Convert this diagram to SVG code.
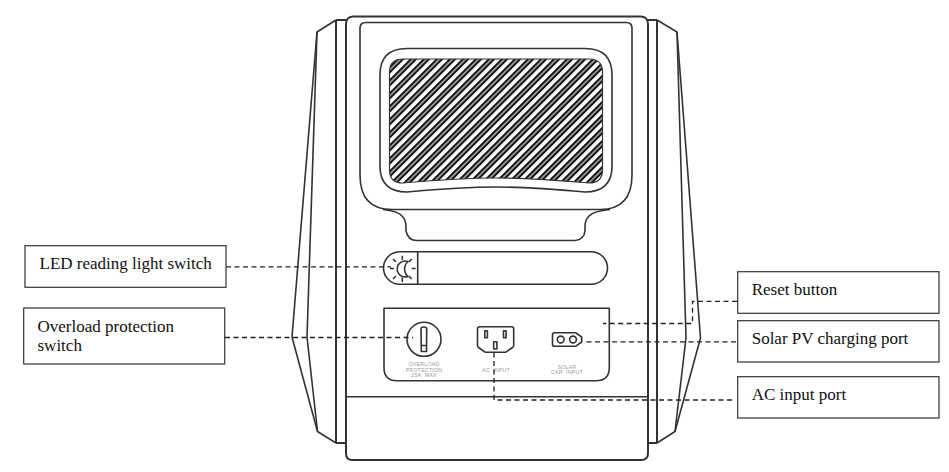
<svg xmlns="http://www.w3.org/2000/svg" width="949" height="472" viewBox="0 0 949 472">
<style>
.o{fill:none;stroke:#333;stroke-width:1.6;stroke-linejoin:round}
.t{fill:none;stroke:#333;stroke-width:2}
.box{fill:#fff;stroke:#333;stroke-width:1.2}
.lab{font-family:"Liberation Serif","Times New Roman",serif;font-size:17px;fill:#111}
.sm{font-family:"Liberation Sans",Arial,sans-serif;font-size:5.3px;letter-spacing:.2px;fill:#999;text-anchor:middle}
.d{fill:none;stroke:#222;stroke-width:1.3;stroke-dasharray:5 3.5}
</style>
<defs>
<pattern id="hatch" width="9.2" height="9.2" patternUnits="userSpaceOnUse" patternTransform="rotate(-45 389 59)">
<rect width="9.2" height="9.2" fill="#fff"/>
<rect y="0" width="9.2" height="2.3" fill="#111"/>
<rect y="3.3" width="9.2" height="2.3" fill="#111"/>
</pattern>
</defs>
<rect width="949" height="472" fill="#fff"/>
<g id="unit">
<path class="o" d="M336 20L317 32L292 337L317.500 431.500L336 443"/>
<path class="o" d="M317 32L307 337L317.500 431.500"/>
<path class="t" d="M336 20V443M336 20H346M336 443H346"/>
<path class="o" d="M657 20L677 32L700.500 338L675 431.500L657 443"/>
<path class="o" d="M677 32L686 338L675 431.500"/>
<path class="t" d="M657 20V443M648 20H657M648 443H657"/>
<path class="t" d="M346 24Q346 17 353 16.500H641Q648 17 648 24V453Q648 460 641 460H352Q346 460 346 453Z"/>
<path class="o" d="M360 175V28Q360 22.500 366 22.500H626Q632 22.500 632 28V175Q632 209.500 600 209.500H392Q360 209.500 360 175Z"/>
<path class="o" d="M383 209.500Q398 211 402 216Q406 220 406 227V231Q408 240 416 240.500H575Q584 240 585 231V227Q585 220 589 216Q594 211 610 209.500"/>
<path class="o" d="M380 75Q380 48.500 407 48.500H585Q612 48.500 612 75V166Q612 192 585 192Q530 187 496 187Q462 187 407 192Q380 192 380 166Z"/>
<path d="M389.500 72Q389.500 59 403 59H589Q602.500 59 602.500 72V170Q602.500 183 589 183Q530 178 496 178Q462 178 403 183Q389.500 183 389.500 170Z" fill="url(#hatch)" stroke="#333" stroke-width="1.2"/>
<path class="o" d="M346 396.700H648"/>
</g>
<g id="led-strip">
<rect class="o" x="383.500" y="251.700" width="224" height="32.600" rx="16.300"/>
<path class="o" d="M417.700 251.700V284.300"/>
<path class="o" stroke-width="1.2" d="M408 261.500A8 8 0 1 0 408 276.500A10 10 0 0 1 408 261.500Z"/>
<path class="o" stroke-width="1.2" d="M402.300 255.700V260M402.300 277.500V282M393 259L396 262M411.700 259L409 262M393 279L396 276M411.700 279L409 276M390 268.500H394M411.700 268.500H415.700"/>
</g>
<g id="port-panel">
<path class="o" d="M384 308.300H609.300V367.700Q609.300 380.700 596 380.700H397Q384 380.700 384 367.700Z"/>
</g>
<g id="overload-switch">
<circle class="o" cx="424" cy="339.300" r="17"/>
<path class="o" stroke-width="1.2" d="M421 329Q421 327 423.800 327Q426.700 327 426.700 329L426.500 351.500H421.300ZM421.300 345.500H426.500"/>
<text class="sm" x="424" y="366">OVERLOAD</text>
<text class="sm" x="424" y="371.500">PROTECTION</text>
<text class="sm" x="424" y="376.500">25A&#160;&#160;MAX</text>
</g>
<g id="ac-input">
<path class="o" d="M477.500 329Q477.500 326.700 480 326.700H511.500Q513.700 326.700 513.700 329V345.500Q513.700 346.500 512.500 347.500L505.500 352.300H485.500L478.500 347.500Q477.500 346.500 477.500 345.500Z"/>
<rect class="o" stroke-width="1.2" x="484.800" y="330.700" width="2.600" height="7"/>
<rect class="o" stroke-width="1.200" x="503.500" y="330.700" width="2.600" height="7"/>
<rect class="o" stroke-width="1.2" x="493.700" y="341.700" width="3.200" height="7.300"/>
<text class="sm" x="496" y="371.500">AC&#160;&#160;INPUT</text>
</g>
<g id="solar-input">
<path class="o" d="M552.500 334.500Q552.500 332.700 554.500 332.700H575.500L581.700 337V342L575.500 346.300H554.500Q552.500 346.300 552.500 344.500Z"/>
<circle class="o" cx="560.700" cy="339.500" r="3.400"/>
<circle class="o" cx="573" cy="339.500" r="3.400"/>
<text class="sm" x="567" y="368.500">SOLAR</text>
<text class="sm" x="567" y="374">CAR&#160;&#160;INPUT</text>
</g>
<g id="connectors">
<path class="d" d="M226 266.800H391"/>
<path class="d" d="M225 337.500H413"/>
<path class="d" d="M737 301.300H692.500V323.500H603"/>
<path class="d" d="M736 341.800H585"/>
<path class="d" d="M494 352.500V400H735"/>
</g>
<g id="label-led">
<rect class="box" x="25" y="245.700" width="201" height="41.600"/>
<text class="lab" x="39.500" y="269">LED reading light switch</text>
</g>
<g id="label-overload">
<rect class="box" x="23.700" y="308" width="201" height="56"/>
<text class="lab" x="37.500" y="332">Overload protection</text>
<text class="lab" x="37.500" y="351">switch</text>
</g>
<g id="label-reset">
<rect class="box" x="737.700" y="271.700" width="201.300" height="41.600"/>
<text class="lab" x="751.700" y="295">Reset button</text>
</g>
<g id="label-solar">
<rect class="box" x="737.700" y="320.700" width="201.300" height="41.300"/>
<text class="lab" x="751.700" y="344">Solar PV charging port</text>
</g>
<g id="label-ac">
<rect class="box" x="737.700" y="376.700" width="201.300" height="41.300"/>
<text class="lab" x="751.700" y="400">AC input port</text>
</g>
</svg>
